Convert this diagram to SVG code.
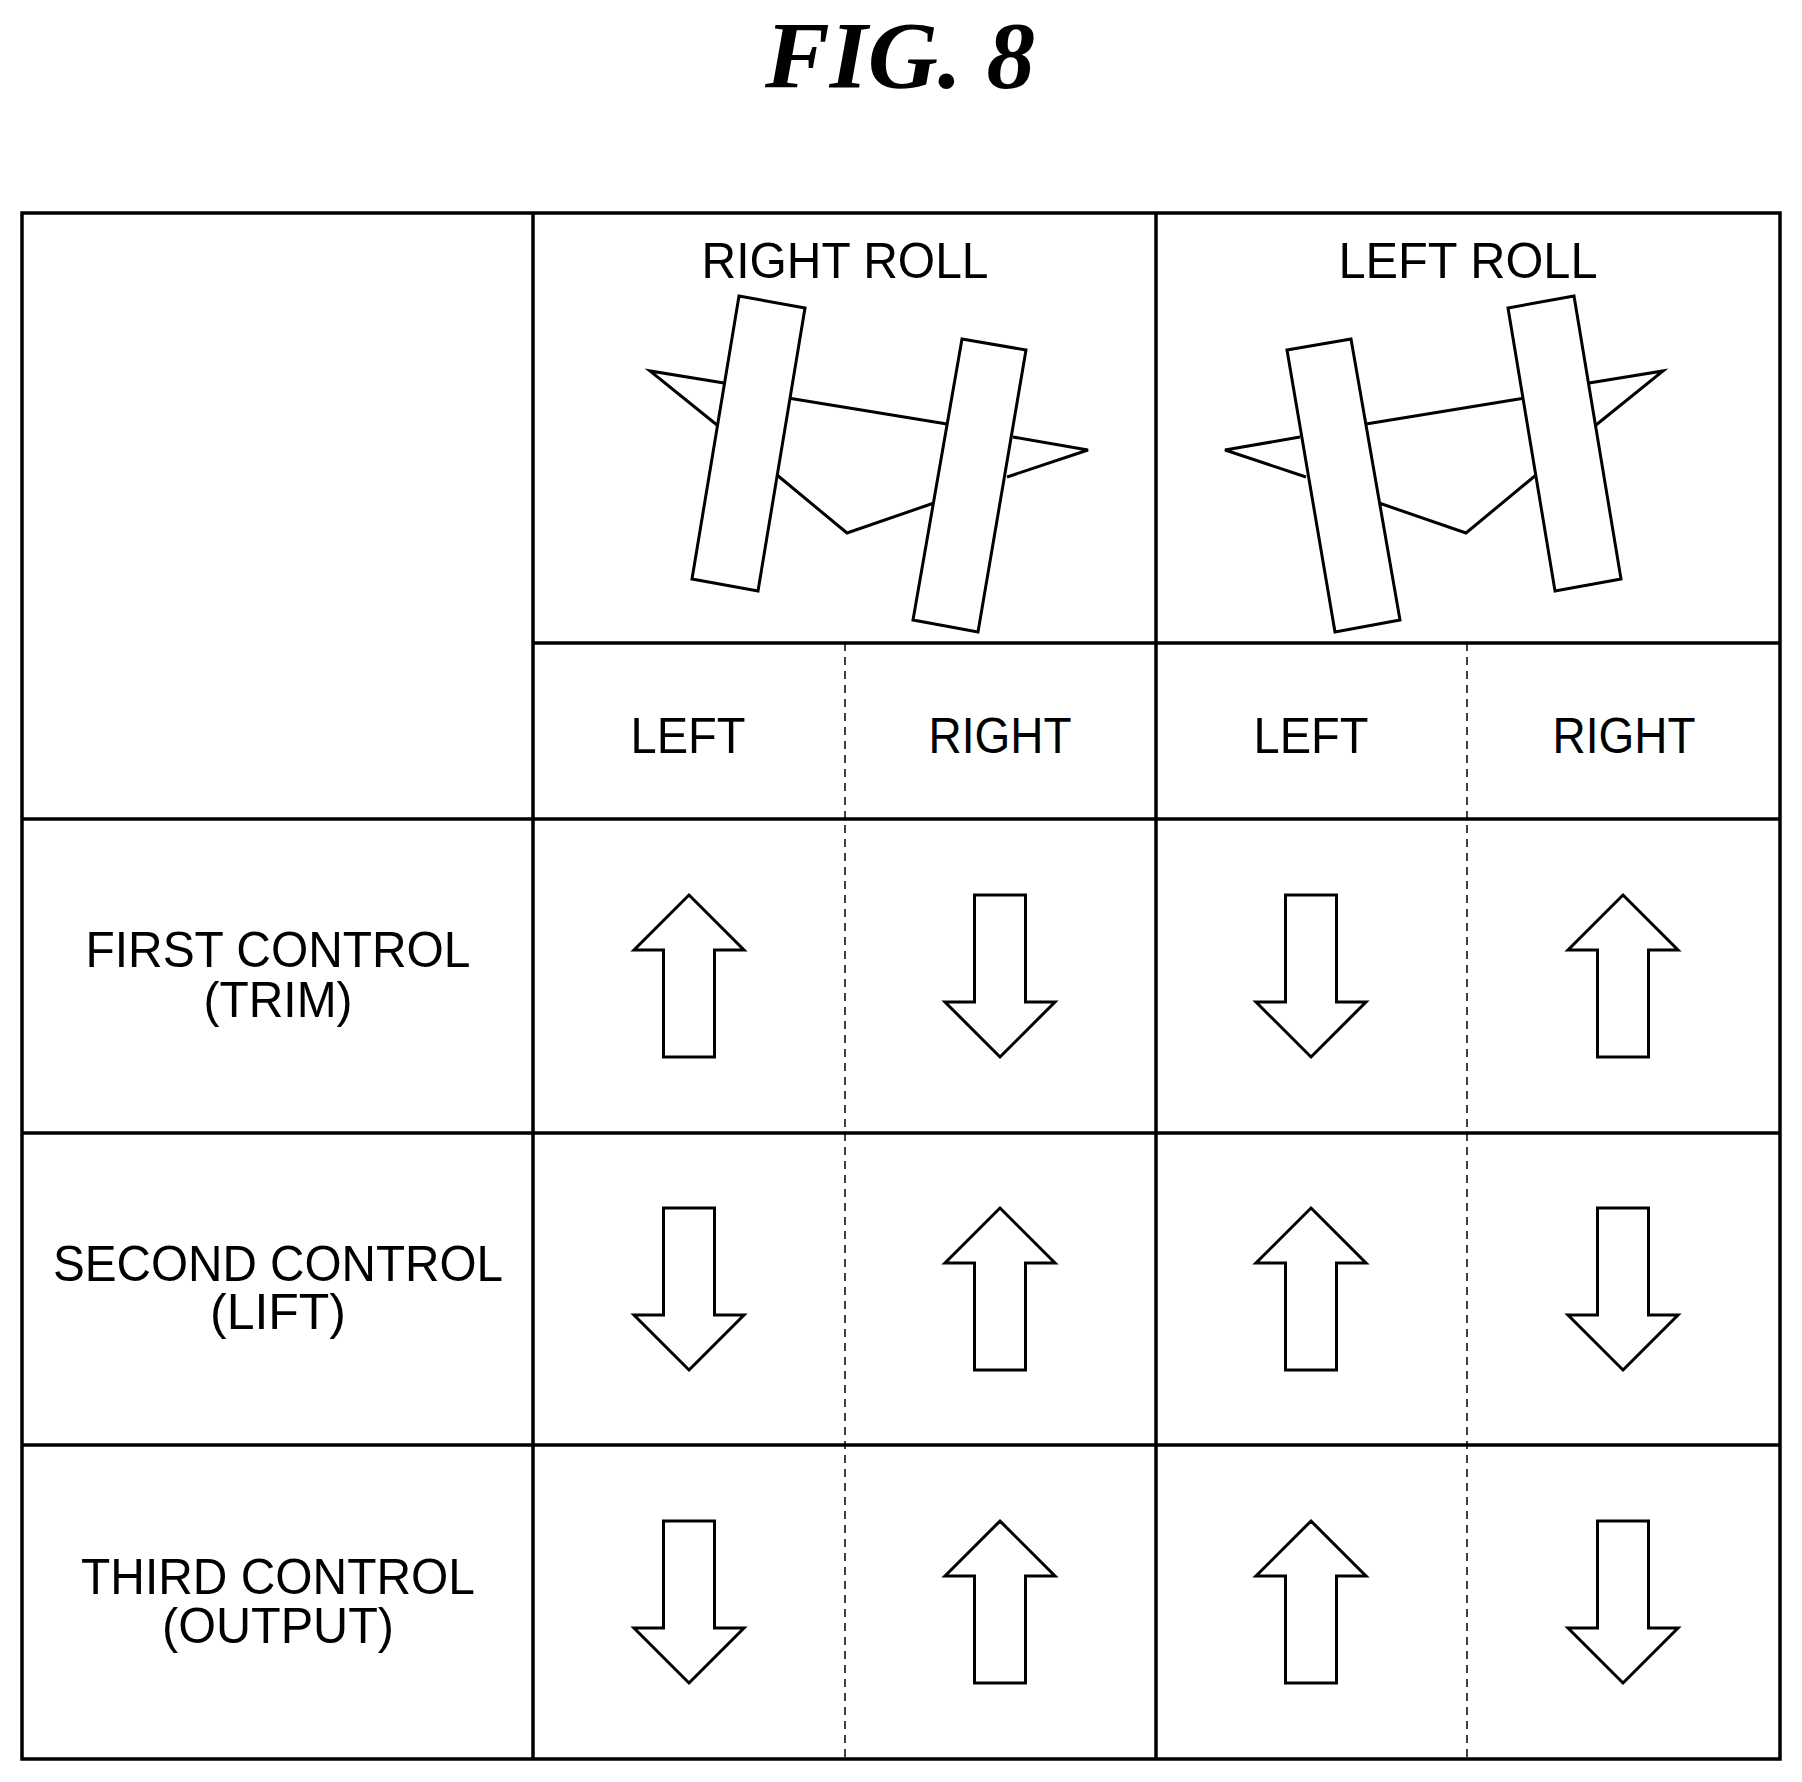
<svg xmlns="http://www.w3.org/2000/svg" width="1802" height="1782" viewBox="0 0 1802 1782">
<defs>
<style>
.g{stroke:#000;stroke-width:3.5;fill:none}
.d{stroke:#000;stroke-width:1.5;stroke-dasharray:8,6;fill:none}
.s{stroke:#000;stroke-width:3;fill:#fff;stroke-linejoin:miter}
.t{font-family:"Liberation Sans",Arial,sans-serif;font-size:50px;text-anchor:middle;fill:#000}
.f{font-family:"Liberation Serif","Times New Roman",serif;font-size:95px;font-weight:bold;font-style:italic;text-anchor:middle}
</style>
<path id="up" d="M0,0 L55,55 L25.5,55 L25.5,162 L-25.5,162 L-25.5,55 L-55,55 Z"/>
<path id="dn" d="M0,162 L55,107 L25.5,107 L25.5,0 L-25.5,0 L-25.5,107 L-55,107 Z"/>
</defs>
<rect width="1802" height="1782" fill="#fff"/>
<text class="f" x="900" y="88" textLength="270" lengthAdjust="spacingAndGlyphs">FIG. 8</text>
<g id="table">
<rect class="g" x="22" y="213" width="1758" height="1546"/>
<line class="g" x1="533" y1="213" x2="533" y2="1759"/>
<line class="g" x1="1156" y1="213" x2="1156" y2="1759"/>
<line class="g" x1="533" y1="643" x2="1780" y2="643"/>
<line class="g" x1="22" y1="819" x2="1780" y2="819"/>
<line class="g" x1="22" y1="1133" x2="1780" y2="1133"/>
<line class="g" x1="22" y1="1445" x2="1780" y2="1445"/>
<line class="d" x1="845" y1="643" x2="845" y2="1759"/>
<line class="d" x1="1467" y1="643" x2="1467" y2="1759"/>
</g>
<g id="labels" class="t">
<text x="845" y="278" textLength="287" lengthAdjust="spacingAndGlyphs">RIGHT ROLL</text>
<text x="1468" y="278" textLength="259" lengthAdjust="spacingAndGlyphs">LEFT ROLL</text>
<text x="688" y="753" textLength="115" lengthAdjust="spacingAndGlyphs">LEFT</text>
<text x="1000" y="753" textLength="143" lengthAdjust="spacingAndGlyphs">RIGHT</text>
<text x="1311" y="753" textLength="115" lengthAdjust="spacingAndGlyphs">LEFT</text>
<text x="1624" y="753" textLength="143" lengthAdjust="spacingAndGlyphs">RIGHT</text>
<text x="278" y="967" textLength="385" lengthAdjust="spacingAndGlyphs">FIRST CONTROL</text>
<text x="278" y="1017" textLength="149" lengthAdjust="spacingAndGlyphs">(TRIM)</text>
<text x="278" y="1281" textLength="450" lengthAdjust="spacingAndGlyphs">SECOND CONTROL</text>
<text x="278" y="1329" textLength="136" lengthAdjust="spacingAndGlyphs">(LIFT)</text>
<text x="278" y="1594" textLength="394" lengthAdjust="spacingAndGlyphs">THIRD CONTROL</text>
<text x="278" y="1643" textLength="232" lengthAdjust="spacingAndGlyphs">(OUTPUT)</text>
</g>
<g id="right-roll" class="s">
<polyline points="724,383 650,371 717,425" fill="none"/>
<line x1="788" y1="398" x2="947" y2="424"/>
<polyline points="777,475 847,533 934,503" fill="none"/>
<polyline points="1013,437 1088,450 1007,477" fill="none"/>
<polygon points="739,296 805,308 758,591 692,579"/>
<polygon points="962,339 1026,350 978,632 913,620"/>
</g>
<g id="left-roll" class="s" transform="translate(2313,0) scale(-1,1)">
<polyline points="724,383 650,371 717,425" fill="none"/>
<line x1="788" y1="398" x2="947" y2="424"/>
<polyline points="777,475 847,533 934,503" fill="none"/>
<polyline points="1013,437 1088,450 1007,477" fill="none"/>
<polygon points="739,296 805,308 758,591 692,579"/>
<polygon points="962,339 1026,350 978,632 913,620"/>
</g>
<g id="arrows" class="s">
<use href="#up" x="689" y="895"/>
<use href="#dn" x="1000" y="895"/>
<use href="#dn" x="1311" y="895"/>
<use href="#up" x="1623" y="895"/>
<use href="#dn" x="689" y="1208"/>
<use href="#up" x="1000" y="1208"/>
<use href="#up" x="1311" y="1208"/>
<use href="#dn" x="1623" y="1208"/>
<use href="#dn" x="689" y="1521"/>
<use href="#up" x="1000" y="1521"/>
<use href="#up" x="1311" y="1521"/>
<use href="#dn" x="1623" y="1521"/>
</g>
</svg>
